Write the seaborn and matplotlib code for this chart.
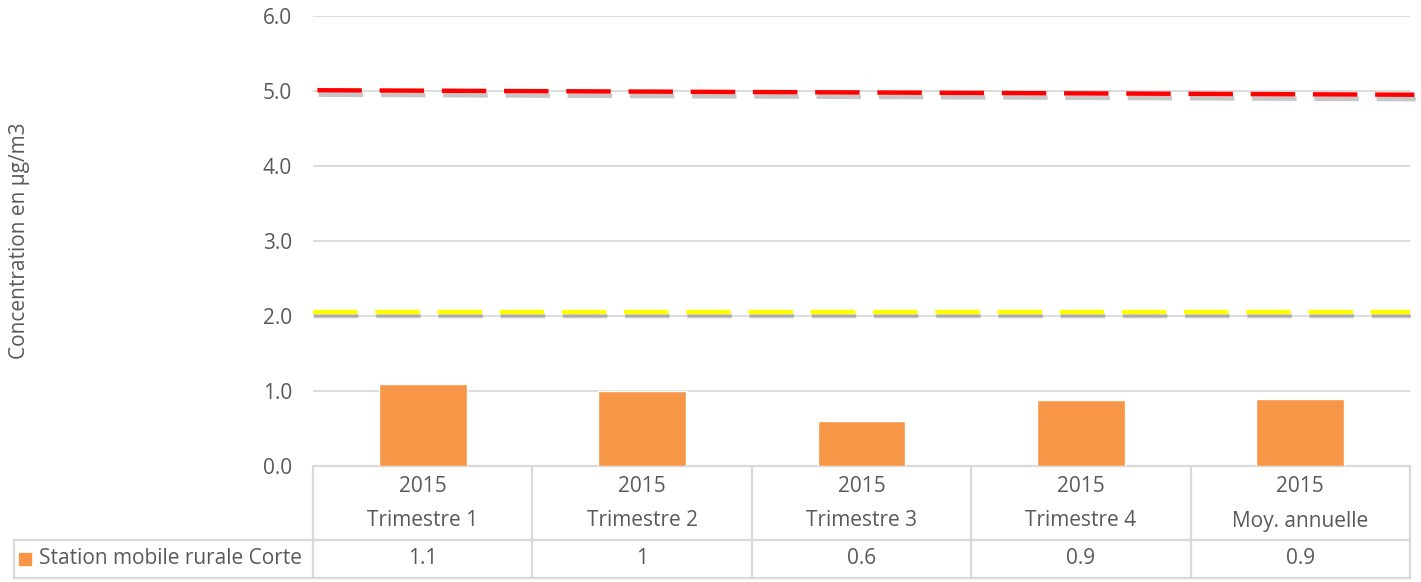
import numpy as np
import pandas as pd
import seaborn as sns
import matplotlib.pyplot as plt
import matplotlib.patheffects as pe
from matplotlib.transforms import blended_transform_factory

# data
years = ["2015", "2015", "2015", "2015", "2015"]
periods = ["Trimestre 1", "Trimestre 2", "Trimestre 3", "Trimestre 4", "Moy. annuelle"]
values = [1.1, 1.0, 0.6, 0.88, 0.89]
value_labels = ["1.1", "1", "0.6", "0.9", "0.9"]
series_name = "Station mobile rurale Corte"
red_limit = [5.01, 4.95]      # dashed red line, left end / right end
yellow_limit = [2.06, 2.06]   # dashed yellow line
yticks = [0, 1, 2, 3, 4, 5, 6]

TXT = "#595959"
GRID = "#d9d9d9"
BAR = "#f79646"
FS = 15

sns.set_theme(style="white")
plt.rcParams['font.family'] = ['Open Sans', 'DejaVu Sans']

W, H = 1421, 582
fig = plt.figure(figsize=(W / 100, H / 100), dpi=100)
# plot area in pixels: x 313-1410, y 16-466
ax = fig.add_axes([313 / W, (H - 466) / H, 1097 / W, 450 / H])
ax_h = 450.0

df = pd.DataFrame({"period": periods, "value": values})
sns.barplot(data=df, x="period", y="value", color=BAR, saturation=1,
            width=0.4, ax=ax, zorder=3)

n = len(periods)
ax.set_xlim(-0.5, n - 0.5)
ax.set_ylim(0, 6)
ax.set_yticks(yticks)
ax.set_yticklabels([f"{t:.1f}" for t in yticks], fontsize=FS, color=TXT)
ax.tick_params(axis="y", length=0, pad=15)
ax.set_xticks([])
ax.set_xlabel("")
ax.set_ylabel("Concentration en µg/m3", fontsize=FS, color=TXT)
ax.yaxis.set_label_coords(-0.258, 0.5)
ax.yaxis.grid(True, color=GRID, lw=1.3)
ax.set_axisbelow(True)
for s in ax.spines.values():
    s.set_visible(False)

# dashed threshold lines with soft shadow
shadow = [pe.SimpleLineShadow(offset=(1, -3.2), shadow_color="black", alpha=0.22),
          pe.Normal()]
xs = [-0.5, n - 0.5]
ax.plot([x + 0.02 for x in xs], red_limit, color="red", lw=3.2, dashes=(10, 4),
        clip_on=False, zorder=5, path_effects=shadow)
ax.plot(xs, yellow_limit, color="#ffff00", lw=3.2, dashes=(10, 4),
        clip_on=False, zorder=5, path_effects=shadow)

# data table under the plot
tr = ax.get_xaxis_transform()
trf = blended_transform_factory(fig.transFigure, ax.transAxes)

def py(px):
    # pixel offset below the axes bottom -> axes fraction
    return -px / ax_h

row1 = py(74)
row2 = py(112)
lkw = dict(color=GRID, lw=1.6, clip_on=False, zorder=1)

ax.plot([-0.5, n - 0.5], [0, 0], transform=tr, **lkw)
ax.plot([-0.5, n - 0.5], [row1, row1], transform=tr, **lkw)
ax.plot([-0.5, n - 0.5], [row2, row2], transform=tr, **lkw)
ax.plot([14 / W, 313 / W], [row1, row1], transform=trf, **lkw)
ax.plot([14 / W, 313 / W], [row2, row2], transform=trf, **lkw)
ax.plot([14 / W, 14 / W], [row1, row2], transform=trf, **lkw)
for b in np.arange(n + 1) - 0.5:
    ax.plot([b, b], [0, row2], transform=tr, **lkw)

for i in range(n):
    ax.text(i, py(20), years[i], transform=tr, ha="center", va="center",
            fontsize=FS, color=TXT)
    ax.text(i, py(55), periods[i], transform=tr, ha="center", va="center",
            fontsize=FS, color=TXT)
    ax.text(i, py(93), value_labels[i], transform=tr, ha="center", va="center",
            fontsize=FS, color=TXT)

ax.plot([25 / W], [py(93)], marker="s", ms=8, color=BAR, transform=trf,
        clip_on=False, linestyle="none")
ax.text(39 / W, py(93), series_name, transform=trf, ha="left", va="center",
        fontsize=FS, color=TXT)

plt.savefig("out.png", dpi=100)
